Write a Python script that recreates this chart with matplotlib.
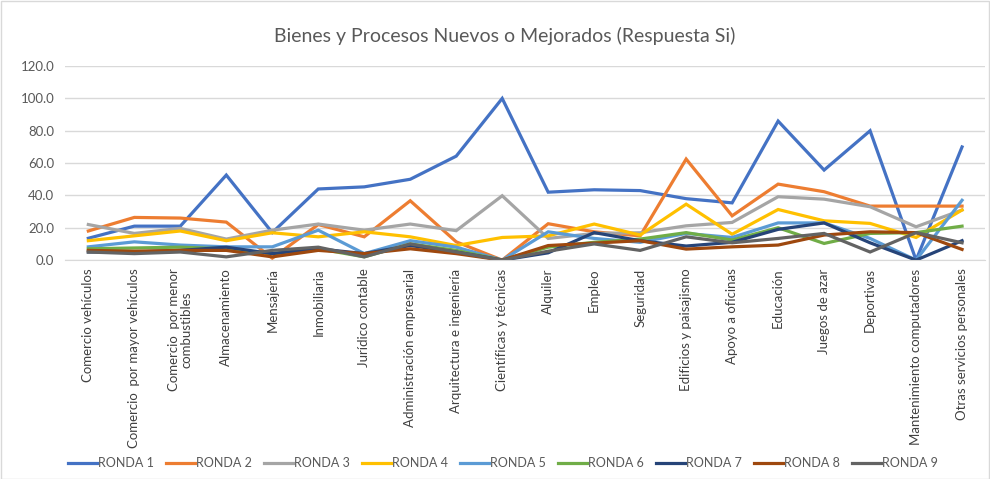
import numpy as np
import matplotlib.pyplot as plt
from matplotlib.patches import Rectangle

plt.rcParams['font.family'] = ['Lato', 'DejaVu Sans']

categorias = ["Comercio vehículos", "Comercio  por mayor vehículos",
              "Comercio  por menor\ncombustibles", "Almacenamiento", "Mensajería",
              "Inmobiliaria", "Jurídico contable", "Administración empresarial",
              "Arquitectura e ingeniería", "Científicas y técnicas", "Alquiler",
              "Empleo", "Seguridad", "Edificios y paisajismo", "Apoyo a oficinas",
              "Educación", "Juegos de azar", "Deportivas",
              "Mantenimiento computadores", "Otras servicios personales"]

ronda1 = [13.5, 21, 21, 52.6, 17, 44, 45.3, 50, 64.3, 100, 42, 43.5, 43, 38, 35.4, 86, 55.7, 80, 0, 70]
ronda2 = [18, 26.4, 26, 23.5, 1.2, 22, 14.4, 36.7, 11.3, 0, 22.5, 17.5, 15, 62.5, 27.4, 47, 42.3, 33.4, 33.4, 33.4]
ronda3 = [22, 16.5, 19.6, 13, 18.5, 22.3, 18.5, 22.3, 18.2, 39.8, 13.4, 16.5, 16.9, 21.2, 23.3, 39.2, 37.7, 33, 20.6, 31]
ronda4 = [12, 15, 18, 12, 16.9, 14.4, 17.5, 14.4, 9, 14, 15, 22.3, 15.5, 34.6, 16, 31.3, 24.3, 22.7, 14, 31]
ronda5 = [8.2, 11.3, 9.3, 8.2, 8.2, 18.5, 4, 12, 8, 0, 17.5, 13.4, 11, 16.5, 14, 23, 23, 13.4, 0, 37]
ronda6 = [7, 7.5, 8, 7, 4, 7, 2, 10, 6, 0, 8, 11, 13, 17, 12.4, 20, 10.3, 16.5, 17, 21]
ronda7 = [5, 5, 6, 8, 4, 7, 4, 9, 5, 0, 4.5, 17, 12, 8.7, 11, 19, 23, 10.7, 0, 12]
ronda8 = [6, 5.5, 6, 6, 2, 6, 4, 7, 4, 0, 9, 10.5, 12, 6.8, 8.2, 9.3, 15.5, 17.5, 17, 6.6]
ronda9 = [5, 4, 5, 2, 6, 8, 2, 10, 5, 0, 5.5, 10, 6, 14.4, 10.7, 13.4, 16.5, 5, 17, 10.7]

series = [ronda1, ronda2, ronda3, ronda4, ronda5, ronda6, ronda7, ronda8, ronda9]
nombres = ["RONDA %d" % (i + 1) for i in range(9)]
colores = ["#4472C4", "#ED7D31", "#A5A5A5", "#FFC000", "#5B9BD5",
           "#70AD47", "#264478", "#9E480E", "#636363"]

fig = plt.figure(figsize=(9.9, 4.79), dpi=100)
ax = fig.add_axes([0.066, 0.457, 0.929, 0.405])

x = np.arange(len(categorias))
for vals, nombre, c in zip(series, nombres, colores):
    ax.plot(x, vals, color=c, linewidth=2.3, label=nombre, solid_joinstyle='miter')

ax.set_xlim(-0.5, len(categorias) - 0.5)
ax.set_ylim(0, 120)
ax.set_yticks(np.arange(0, 121, 20))
ax.set_yticklabels(["%.1f" % v for v in np.arange(0, 121, 20)], color="#595959", fontsize=9.5)
ax.set_xticks(x)
ax.set_xticklabels(categorias, rotation=90, va="top", ha="center",
                   color="#404040", fontsize=9.5, linespacing=1.0)
ax.tick_params(length=0, pad=6)
ax.tick_params(axis='y', pad=8)
ax.grid(axis='y', color="#D9D9D9", linewidth=1)
ax.set_axisbelow(True)
for s in ["top", "right", "left"]:
    ax.spines[s].set_visible(False)
ax.spines["bottom"].set_color("#D9D9D9")

fig.text(0.51, 0.925, "Bienes y Procesos Nuevos o Mejorados (Respuesta Si)",
         ha="center", va="center", fontsize=14, color="#595959")

leg = fig.legend(loc="center", bbox_to_anchor=(0.508, 0.033), ncol=9, frameon=False,
                 fontsize=9, handlelength=2.3, handletextpad=0.12, columnspacing=0.95)
for t in leg.get_texts():
    t.set_color("#595959")
for h in leg.get_lines():
    h.set_linewidth(2.3)

fig.patches.append(Rectangle((0.001, 0.001), 0.998, 0.997, transform=fig.transFigure,
                             fill=False, edgecolor="#D9D9D9", linewidth=1))

fig.savefig("out.png", dpi=100)
